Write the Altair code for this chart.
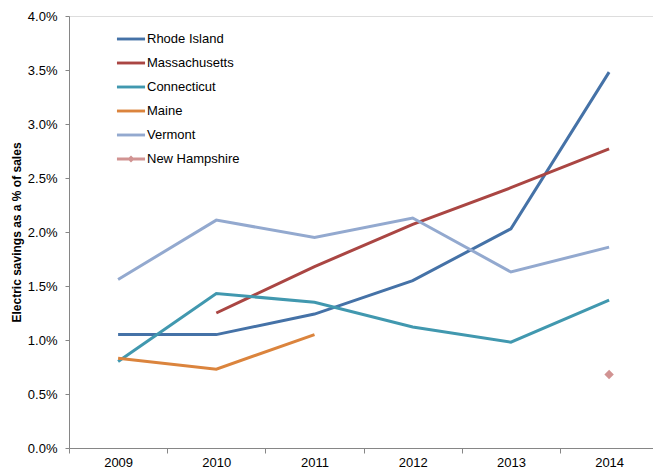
import altair as alt
import pandas as pd

years = [2009, 2010, 2011, 2012, 2013, 2014]
states = ["Rhode Island", "Massachusetts", "Connecticut", "Maine", "Vermont", "New Hampshire"]
rhode_island = [1.05, 1.05, 1.24, 1.55, 2.03, 3.48]
massachusetts = [None, 1.25, 1.68, 2.07, 2.41, 2.77]
connecticut = [0.80, 1.43, 1.35, 1.12, 0.98, 1.37]
maine = [0.83, 0.73, 1.05, None, None, None]
vermont = [1.56, 2.11, 1.95, 2.13, 1.63, 1.86]
new_hampshire = [None, None, None, None, None, 0.68]
colors = ["#4572A7", "#AA4643", "#4198AF", "#DB843D", "#93A9CF", "#D19392"]
y_ticks = [0.0, 0.005, 0.01, 0.015, 0.02, 0.025, 0.03, 0.035, 0.04]

series = [rhode_island, massachusetts, connecticut, maine, vermont, new_hampshire]
rows = []
for st, vals in zip(states, series):
    for yr, v in zip(years, vals):
        if v is not None:
            rows.append({"year": yr, "state": st, "value": v / 100.0})
df = pd.DataFrame(rows)

FONT = "Liberation Sans"
line_path = "M-1.17,-0.12H1.17V0.12H-1.17Z"
nh_path = line_path + " M0,-0.3L0.3,0L0,0.3L-0.3,0Z"
shapes = [line_path] * 5 + [nh_path]

step = 98.2
W, H = 584, 432
x_scale = alt.Scale(domain=[2008.5, 2008.5 + W / step], nice=False, zero=False)
y_scale = alt.Scale(domain=[0, 0.04], nice=False)
color_scale = alt.Scale(domain=states, range=colors)

x_enc = alt.X("year:Q", scale=x_scale, axis=alt.Axis(
    values=years, format="d", title=None, grid=False, tickOffset=-step / 2,
    labelOffset=step / 2, tickSize=5, labelPadding=3, domainColor="#868686",
    tickColor="#868686", labelFont=FONT, labelFontSize=13, labelColor="#000000"))
y_enc = alt.Y("value:Q", scale=y_scale, axis=alt.Axis(
    values=y_ticks, format=".1%", title="Electric savings as a % of sales",
    grid=False, tickSize=4, labelPadding=8, domainColor="#868686",
    tickColor="#868686", labelFont=FONT, labelFontSize=13, labelColor="#000000",
    titleFont=FONT, titleFontSize=12, titleFontWeight="bold", titleColor="#000000",
    titlePadding=4))

lines = alt.Chart(df).mark_line(strokeWidth=3).encode(
    x=x_enc, y=y_enc,
    color=alt.Color("state:N", scale=color_scale, legend=None),
    detail="state:N",
)

nh = alt.Chart(df).transform_filter(alt.datum.state == "New Hampshire").mark_point(
    shape="diamond", filled=True, size=90, opacity=1).encode(
    x=x_enc, y=y_enc,
    color=alt.Color("state:N", scale=color_scale, legend=None),
)

legend_layer = alt.Chart(df).transform_filter("false").mark_point(filled=True, opacity=1).encode(
    x=x_enc, y=y_enc,
    color=alt.Color("state:N", scale=color_scale, legend=alt.Legend(
        title=None, orient="none", legendX=50, legendY=11, symbolSize=576,
        rowPadding=5, labelOffset=4, labelFont=FONT, labelFontSize=13,
        labelColor="#000000", padding=0, symbolStrokeWidth=0, symbolOpacity=1)),
    shape=alt.Shape("state:N", scale=alt.Scale(domain=states, range=shapes)),
)

chart = alt.layer(lines, nh, legend_layer).resolve_legend(
    color="independent", shape="independent"
).properties(
    width=W, height=H,
    autosize=alt.AutoSizeParams(type="none"),
    padding={"left": 69, "top": 16, "right": 0, "bottom": 24},
).configure_view(stroke=None).configure(background="white")

chart.save("out.html", embed_options={"renderer": "svg", "actions": False})
